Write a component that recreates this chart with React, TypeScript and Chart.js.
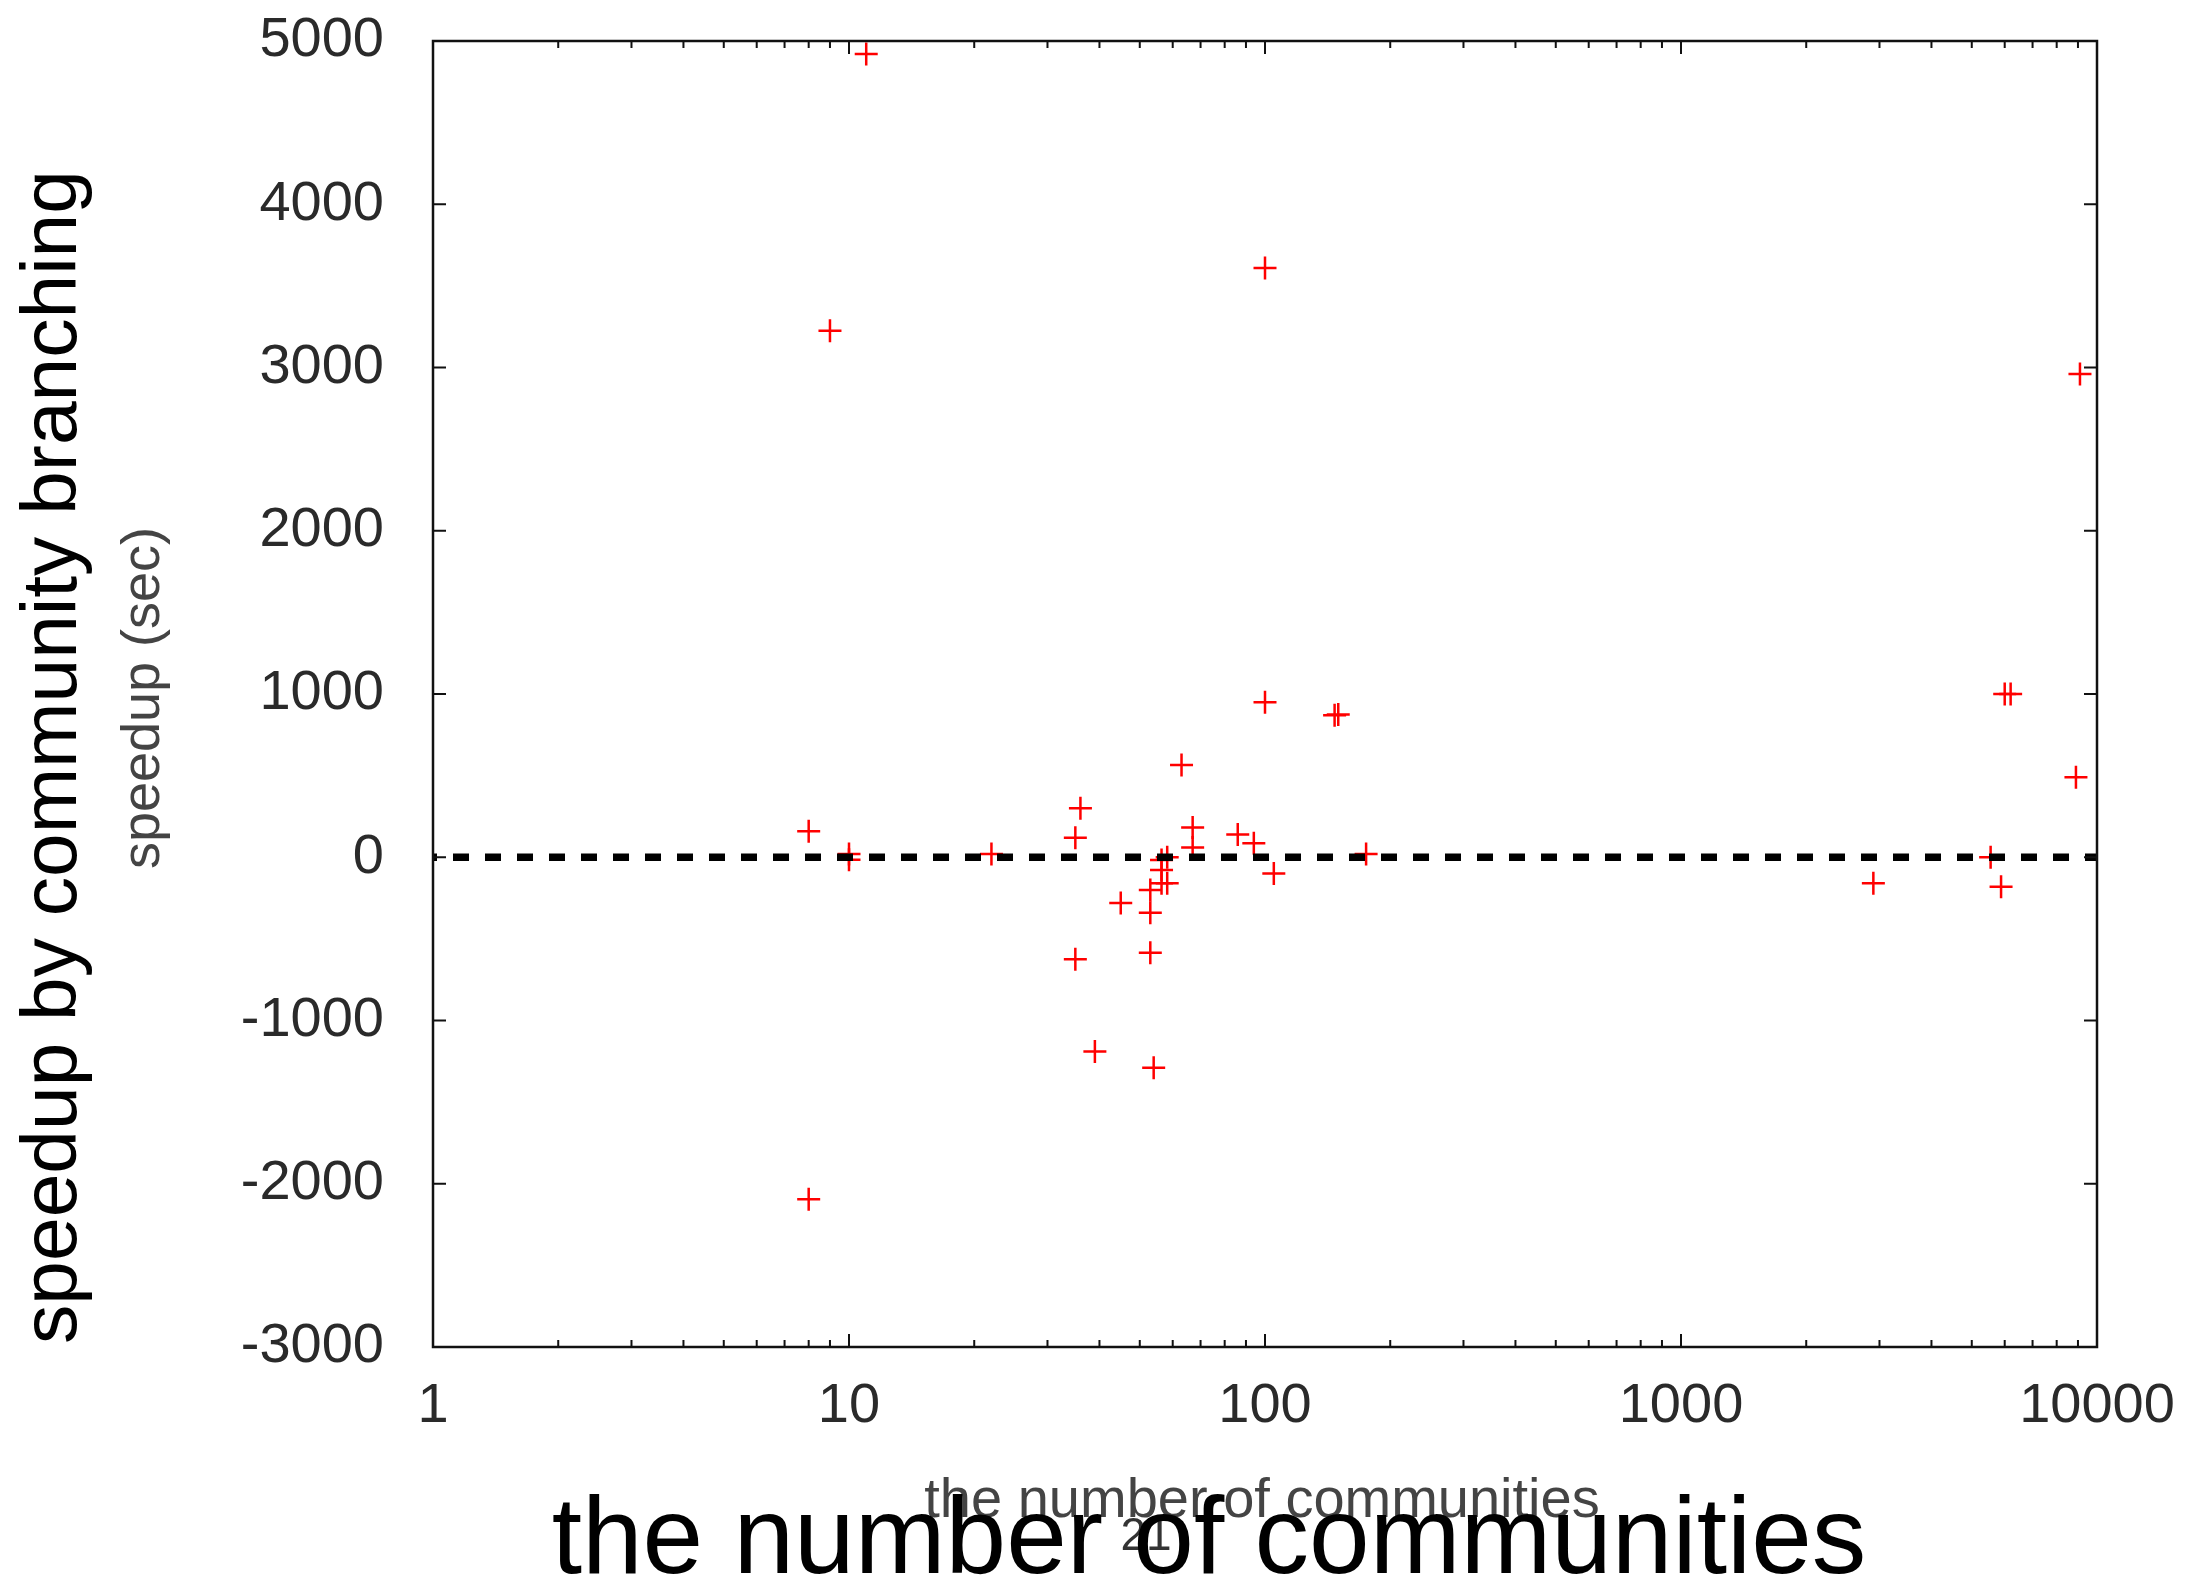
import React, { useEffect, useRef } from 'react';
import { Chart, registerables } from 'chart.js';

Chart.register(...registerables);

// number of communities (x, log scale)
const communities = [
  8, 8, 9, 10, 10, 11, 22, 35, 35, 36, 39, 45, 53, 53, 53, 54, 56.4, 56.4, 56.4, 58.2, 58.2,
  63, 67, 67, 86, 94, 100, 100, 105, 147, 150, 175, 2900, 5550, 5880, 6000, 6200, 8900, 9100,
];
// speedup (sec)
const speedup = [
  160, -2095, 3225, 20, -15, 4920, 20, 120, -625, 300, -1190, -280, -200, -340, -585, -1290, -17, -78, -160, 0, -160,
  565, 183, 60, 140, 85, 950, 3610, -100, 870, 875, 20, -160, 0, -180, 1000, 1000, 490, 2960,
];
// reference line y = 0
const zeroLineX = [1, 10000];
const zeroLineY = [0, 0];

const xDecades = [1, 10, 100, 1000, 10000];
const yTicks = [-3000, -2000, -1000, 0, 1000, 2000, 3000, 4000, 5000];

const smallYTitle = 'speedup (sec)';
const smallXTitle = 'the number of communities';
const bigYTitle = 'speedup by community branching';
const bigXTitle = 'the number of communities';
const pageNumber = '21';

const FONT = '"Liberation Sans", Arial, Helvetica, sans-serif';

const isDecade = (v: number) => {
  const l = Math.log10(v);
  return Math.abs(l - Math.round(l)) < 1e-9;
};

const framePlugin = {
  id: 'gnuFrame',
  afterDraw(chart: any) {
    const { ctx, chartArea } = chart;
    const { left, right, top, bottom } = chartArea;
    const xs = chart.scales.x;
    const ys = chart.scales.y;
    ctx.save();
    // tick marks (mirrored, inward)
    ctx.strokeStyle = '#111';
    ctx.lineWidth = 2;
    ctx.beginPath();
    for (let d = 0; d < xDecades.length; d++) {
      const base = xDecades[d];
      for (let k = 1; k <= 9; k++) {
        const v = base * k;
        if (v > xDecades[xDecades.length - 1]) break;
        const px = xs.getPixelForValue(v);
        const len = k === 1 ? 13 : 7;
        ctx.moveTo(px, bottom);
        ctx.lineTo(px, bottom - len);
        ctx.moveTo(px, top);
        ctx.lineTo(px, top + len);
      }
    }
    yTicks.forEach((v) => {
      const py = ys.getPixelForValue(v);
      ctx.moveTo(left, py);
      ctx.lineTo(left + 13, py);
      ctx.moveTo(right, py);
      ctx.lineTo(right - 13, py);
    });
    ctx.stroke();
    // frame
    ctx.lineWidth = 2.5;
    ctx.strokeStyle = '#111';
    ctx.strokeRect(left, top, right - left, bottom - top);

    // small (original) axis titles
    ctx.fillStyle = '#444';
    ctx.textAlign = 'center';
    ctx.textBaseline = 'alphabetic';
    ctx.font = `54px ${FONT}`;
    ctx.save();
    ctx.translate(159, 698);
    ctx.rotate(-Math.PI / 2);
    ctx.fillText(smallYTitle, 0, 0);
    ctx.restore();
    ctx.font = `56px ${FONT}`;
    ctx.fillText(smallXTitle, 1262, 1517);

    // page number
    ctx.fillStyle = '#333';
    ctx.font = `46px ${FONT}`;
    ctx.fillText(pageNumber, 1146, 1550);

    // big overlay titles
    ctx.fillStyle = '#000';
    ctx.font = `78.5px ${FONT}`;
    ctx.save();
    ctx.translate(76, 757);
    ctx.rotate(-Math.PI / 2);
    ctx.fillText(bigYTitle, 0, 0);
    ctx.restore();
    ctx.font = `109px ${FONT}`;
    ctx.fillText(bigXTitle, 1209, 1573);
    ctx.restore();
  },
};

const zeroPad = (s: any) => {
  s.paddingTop = 0;
  s.paddingBottom = 0;
  s.paddingLeft = 0;
  s.paddingRight = 0;
};

export default function App() {
  const ref = useRef<HTMLCanvasElement | null>(null);
  useEffect(() => {
    if (!ref.current) return;
    const points = communities.map((c, i) => ({ x: c, y: speedup[i] }));
    const zero = zeroLineX.map((x, i) => ({ x, y: zeroLineY[i] }));
    const chart = new Chart(ref.current, {
      type: 'scatter',
      data: {
        datasets: [
          {
            label: 'zero',
            data: zero,
            showLine: true,
            borderColor: '#000',
            borderWidth: 7.5,
            borderDash: [16, 16],
            borderDashOffset: 12,
            pointRadius: 0,
            order: 0,
          } as any,
          {
            label: 'speedup',
            data: points,
            pointStyle: 'cross',
            pointRadius: 11.5,
            pointBorderWidth: 2.5,
            borderColor: '#ff0000',
            backgroundColor: '#ff0000',
            order: 1,
          } as any,
        ],
      },
      options: {
        animation: false,
        responsive: false,
        devicePixelRatio: 1,
        layout: { padding: { top: 41, right: 94, left: 0, bottom: 0 } },
        plugins: { legend: { display: false }, tooltip: { enabled: false } },
        events: [],
        scales: {
          x: {
            type: 'logarithmic',
            position: 'bottom',
            min: 1,
            max: 10000,
            grid: { display: false, drawTicks: false },
            border: { display: false },
            ticks: {
              autoSkip: false,
              maxRotation: 0,
              minRotation: 0,
              padding: 26,
              color: '#2a2a2a',
              font: { family: FONT, size: 56 },
              callback: (v: any) => {
                const n = Number(v);
                return isDecade(n) ? String(xDecades.find((d) => Math.abs(d - n) < 1e-6) ?? n) : '';
              },
            },
            afterFit: (s: any) => {
              s.height = 233;
              zeroPad(s);
            },
          },
          y: {
            type: 'linear',
            min: yTicks[0],
            max: yTicks[yTicks.length - 1],
            grid: { display: false, drawTicks: false },
            border: { display: false },
            ticks: {
              stepSize: 1000,
              padding: 49,
              color: '#2a2a2a',
              font: { family: FONT, size: 56 },
              callback: (v: any) => String(v),
            },
            afterFit: (s: any) => {
              s.width = 433;
              zeroPad(s);
            },
          },
        },
      },
      plugins: [framePlugin],
    });
    return () => chart.destroy();
  }, []);
  return (
    <div style={{ position: 'fixed', left: 0, top: 0, width: 2191, height: 1580, background: '#fff' }}>
      <canvas ref={ref} width={2191} height={1580} style={{ display: 'block', width: 2191, height: 1580 }} />
    </div>
  );
}
